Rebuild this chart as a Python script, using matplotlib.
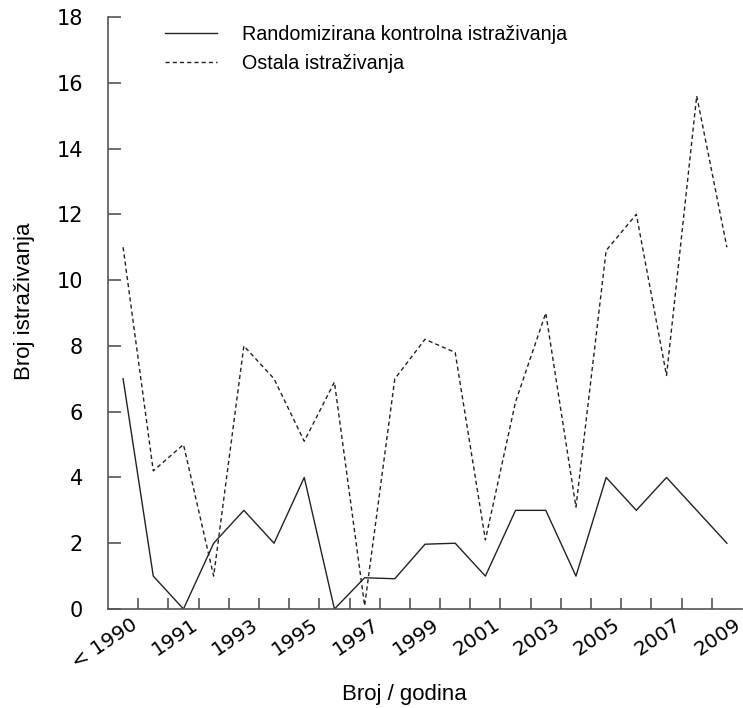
import numpy as np
import matplotlib
matplotlib.use("Agg")
import matplotlib.pyplot as plt
from matplotlib.transforms import ScaledTranslation

# kategorije na x osi
godine = ["< 1990", "1990", "1991", "1992", "1993", "1994", "1995", "1996", "1997",
          "1998", "1999", "2000", "2001", "2002", "2003", "2004", "2005", "2006",
          "2007", "2008", "2009"]
# broj istrazivanja po godini
rct = [7, 1, 0, 2, 3, 2, 4, 0, 0.95, 0.92, 1.97, 2, 1, 3, 3, 1, 4, 3, 4, 3, 2]
ostala = [11, 4.2, 5, 1, 8, 7, 5.1, 6.9, 0.1, 7, 8.2, 7.8, 2.1, 6.3, 9, 3.1,
          10.9, 12, 7.1, 15.6, 11]
y_ticks = [0, 2, 4, 6, 8, 10, 12, 14, 16, 18]

fig = plt.figure(figsize=(7.43, 7.08), dpi=100)
ax = fig.add_axes([108 / 743, 1 - 609 / 708, 634 / 743, 592 / 708])

x = np.arange(len(godine))
ax.plot(x, rct, color="#222222", lw=1.0, label="Randomizirana kontrolna istraživanja")
ax.plot(x, ostala, color="#222222", lw=1.0, dashes=(3, 2.2),
        label="Ostala istraživanja")

ax.set_xlim(-0.5, len(godine) - 0.5)
ax.set_ylim(0, 18)

for s in ["top", "right"]:
    ax.spines[s].set_visible(False)
for s in ["left", "bottom"]:
    ax.spines[s].set_color("#555555")
    ax.spines[s].set_linewidth(1.2)

# crtice izmedju kategorija, oznake na sredini
ax.set_xticks(x[:-1] + 0.5)
ax.set_xticklabels([])
ax.tick_params(axis="x", which="major", direction="in", length=8, width=1.2, color="#555555")
ax.set_xticks(x[::2], minor=True)
ax.set_xticklabels(godine[::2], minor=True, rotation=34, ha="right", va="top",
                   rotation_mode="anchor", fontsize=14.5, family="DejaVu Sans")
ax.tick_params(axis="x", which="minor", length=0, pad=4)
off = ScaledTranslation(5 / 72, 0, fig.dpi_scale_trans)
for lab in ax.get_xticklabels(minor=True):
    lab.set_transform(lab.get_transform() + off)

ax.set_yticks(y_ticks)
ax.set_yticklabels([str(v) for v in y_ticks], fontsize=15, family="DejaVu Sans")
ax.tick_params(axis="y", direction="in", length=9, width=1.2, color="#555555", pad=18)

ax.set_ylabel("Broj istraživanja", fontsize=16, family="Liberation Sans")
ax.yaxis.set_label_coords(-0.115, 0.52)
ax.set_xlabel("Broj / godina", fontsize=16, family="Liberation Sans", va="top")
ax.xaxis.set_label_coords(0.467, -0.127)

ax.legend(loc="upper left", bbox_to_anchor=(0.09, 0.987), frameon=False,
          borderpad=0, borderaxespad=0,
          prop={"family": "Liberation Sans", "size": 14.2}, handlelength=2.65,
          handletextpad=1.25, labelspacing=0.5)

fig.savefig("out.png", dpi=100)
